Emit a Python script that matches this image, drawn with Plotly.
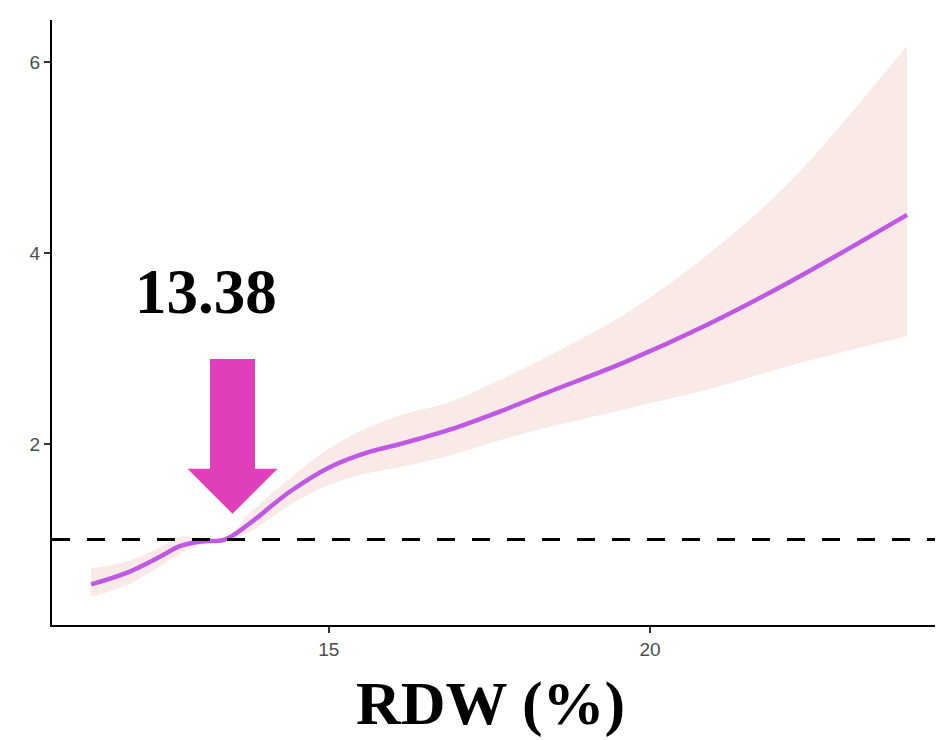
import plotly.graph_objects as go

# --- data ---
rdw = [11.30, 11.85, 12.37, 12.68, 13.00, 13.38, 13.77, 14.39, 15.02, 15.64,
       16.11, 16.88, 17.66, 18.44, 19.58, 20.89, 22.18, 24.00]
hr = [0.53, 0.65, 0.82, 0.93, 0.98, 1.00, 1.17, 1.50, 1.76, 1.92,
      2.00, 2.15, 2.34, 2.55, 2.85, 3.25, 3.70, 4.40]
upper = [0.70, 0.77, 0.92, 1.03, 1.02, 1.01, 1.28, 1.64, 1.96, 2.18,
         2.30, 2.44, 2.67, 2.93, 3.35, 3.98, 4.75, 6.17]
lower = [0.40, 0.52, 0.72, 0.85, 0.94, 0.99, 1.08, 1.36, 1.58, 1.70,
         1.76, 1.88, 2.04, 2.18, 2.36, 2.57, 2.82, 3.13]
x_ticks = [15, 20]
y_ticks = [2, 4, 6]
threshold = 13.38
threshold_label = "13.38"
x_title = "RDW (%)"

fig = go.Figure()
fig.add_trace(go.Scatter(x=rdw, y=lower, mode="lines", line=dict(width=0, shape="spline"),
                         hoverinfo="skip", showlegend=False))
fig.add_trace(go.Scatter(x=rdw, y=upper, mode="lines", line=dict(width=0, shape="spline"),
                         fill="tonexty", fillcolor="#F9EAE8",
                         hoverinfo="skip", showlegend=False))
fig.add_trace(go.Scatter(x=rdw, y=hr, mode="lines",
                         line=dict(color="#BF58E2", width=4.5, shape="spline"),
                         showlegend=False))

# reference line at HR = 1
fig.add_shape(type="line", xref="paper", x0=0, x1=1, yref="y", y0=1, y1=1,
              line=dict(color="black", width=3, dash="18px,17px"))

# big arrow pointing at the threshold
tx = threshold + 0.12
tip_y, head_y, shaft_top = 1.27, 1.74, 2.89
hw, sw = 0.70, 0.35
path = (f"M {tx-sw},{shaft_top} L {tx+sw},{shaft_top} L {tx+sw},{head_y} "
        f"L {tx+hw},{head_y} L {tx},{tip_y} L {tx-hw},{head_y} L {tx-sw},{head_y} Z")
fig.add_shape(type="path", path=path, xref="x", yref="y",
              fillcolor="#E03EBA", line=dict(width=0))

fig.add_annotation(x=13.08, y=3.59, xref="x", yref="y", text=f"<b>{threshold_label}</b>",
                   showarrow=False, font=dict(family="Liberation Serif", size=63, color="black"),
                   xanchor="center", yanchor="middle")
fig.add_annotation(x=0.4916, y=-0.13, xref="paper", yref="paper", text=f"<b>{x_title}</b>",
                   showarrow=False, font=dict(family="Liberation Serif", size=62, color="black"),
                   xanchor="center", yanchor="middle", borderpad=0)

axis_common = dict(showgrid=False, zeroline=False, showline=True, linecolor="black",
                   linewidth=2, ticks="outside", ticklen=6, tickwidth=1.5,
                   tickcolor="#333333",
                   tickfont=dict(family="Liberation Sans", size=19, color="#4d4d4d"))
fig.update_xaxes(range=[10.69, 24.56], tickvals=x_ticks, **axis_common)
fig.update_yaxes(range=[0.105, 6.44], tickvals=y_ticks, **axis_common)

# page body has an 8px margin, so the figure is sized/offset to compensate
fig.update_layout(width=935, height=732, margin=dict(l=44, r=0, t=12, b=115),
                  plot_bgcolor="white", paper_bgcolor="white")

fig.write_html("out.html")
